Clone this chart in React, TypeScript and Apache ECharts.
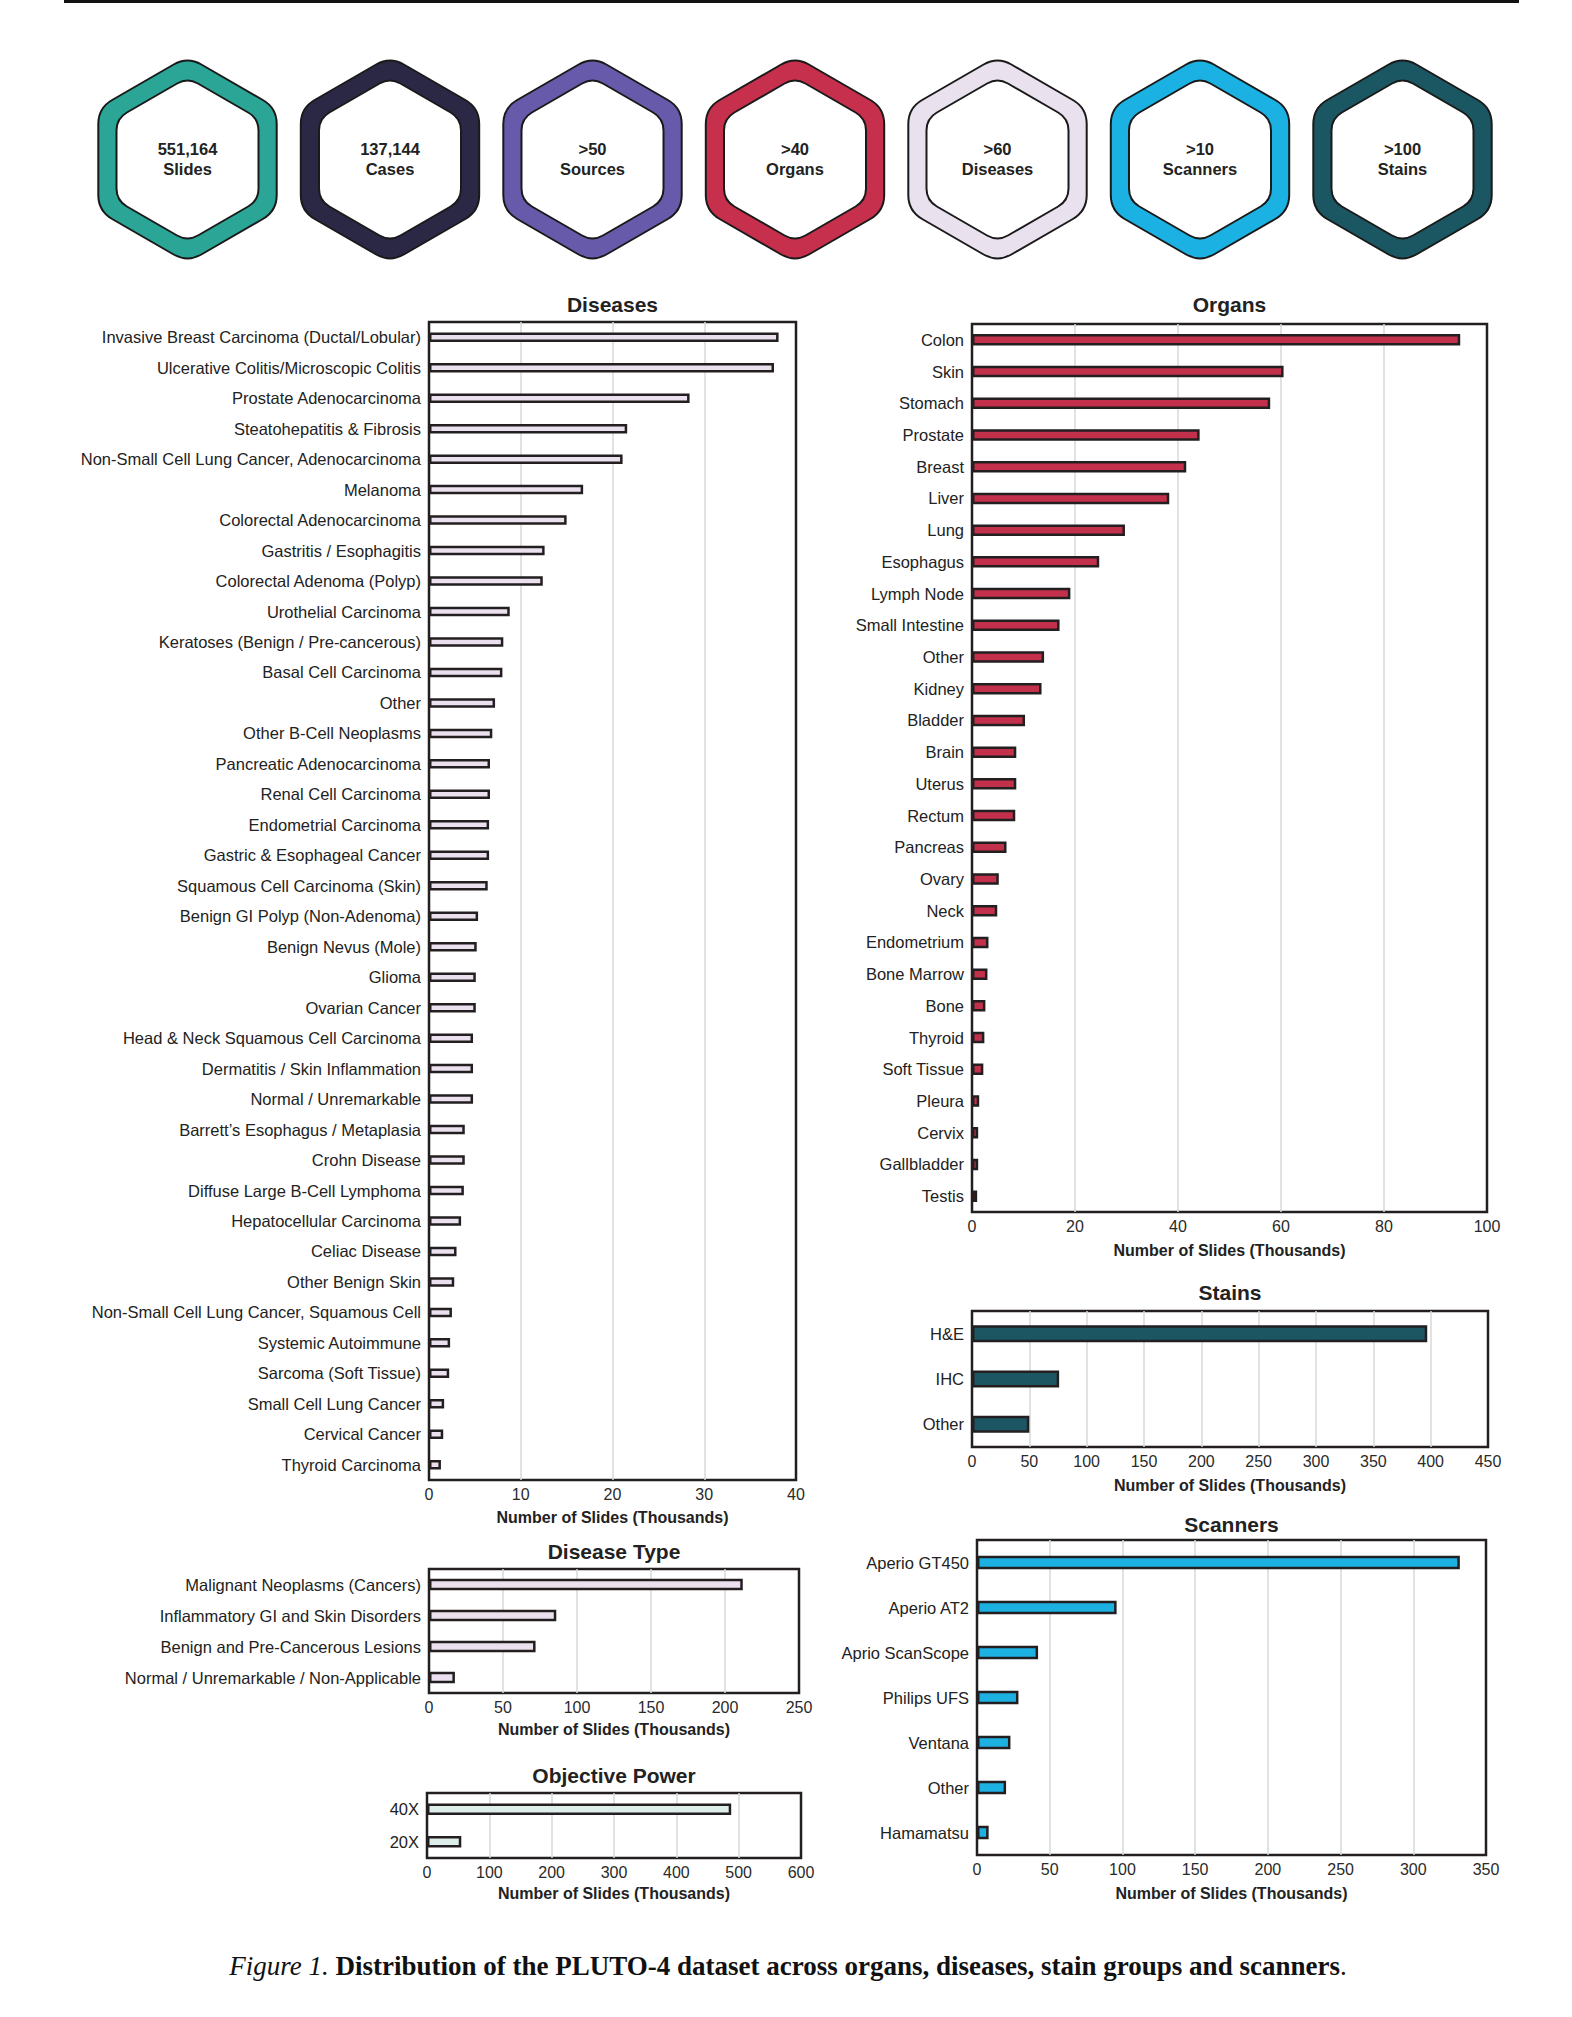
import React, { useEffect, useRef } from "react";
import * as echarts from "echarts";

// ---------- DATA ----------
const hexValues = ["551,164", "137,144", ">50", ">40", ">60", ">10", ">100"];
const hexLabels = ["Slides", "Cases", "Sources", "Organs", "Diseases", "Scanners", "Stains"];
const hexColors = ["#2BA596", "#2B2846", "#685AAA", "#C6304C", "#EAE1EF", "#1BB2E3", "#1B5763"];

const diseaseCategories = [
  "Invasive Breast Carcinoma (Ductal/Lobular)",
  "Ulcerative Colitis/Microscopic Colitis",
  "Prostate Adenocarcinoma",
  "Steatohepatitis & Fibrosis",
  "Non-Small Cell Lung Cancer, Adenocarcinoma",
  "Melanoma",
  "Colorectal Adenocarcinoma",
  "Gastritis / Esophagitis",
  "Colorectal Adenoma (Polyp)",
  "Urothelial Carcinoma",
  "Keratoses (Benign / Pre-cancerous)",
  "Basal Cell Carcinoma",
  "Other",
  "Other B-Cell Neoplasms",
  "Pancreatic Adenocarcinoma",
  "Renal Cell Carcinoma",
  "Endometrial Carcinoma",
  "Gastric & Esophageal Cancer",
  "Squamous Cell Carcinoma (Skin)",
  "Benign GI Polyp (Non-Adenoma)",
  "Benign Nevus (Mole)",
  "Glioma",
  "Ovarian Cancer",
  "Head & Neck Squamous Cell Carcinoma",
  "Dermatitis / Skin Inflammation",
  "Normal / Unremarkable",
  "Barrett\u2019s Esophagus / Metaplasia",
  "Crohn Disease",
  "Diffuse Large B-Cell Lymphoma",
  "Hepatocellular Carcinoma",
  "Celiac Disease",
  "Other Benign Skin",
  "Non-Small Cell Lung Cancer, Squamous Cell",
  "Systemic Autoimmune",
  "Sarcoma (Soft Tissue)",
  "Small Cell Lung Cancer",
  "Cervical Cancer",
  "Thyroid Carcinoma",
];
const diseaseValues = [
  38.1, 37.6, 28.4, 21.6, 21.1, 16.8, 15.0, 12.6, 12.4, 8.8, 8.1, 8.0, 7.2, 6.9, 6.65, 6.65,
  6.55, 6.55, 6.4, 5.35, 5.2, 5.1, 5.1, 4.8, 4.8, 4.8, 3.9, 3.9, 3.8, 3.5, 3.0, 2.75, 2.5,
  2.3, 2.2, 1.65, 1.55, 1.3,
];

const organCategories = [
  "Colon", "Skin", "Stomach", "Prostate", "Breast", "Liver", "Lung", "Esophagus",
  "Lymph Node", "Small Intestine", "Other", "Kidney", "Bladder", "Brain", "Uterus",
  "Rectum", "Pancreas", "Ovary", "Neck", "Endometrium", "Bone Marrow", "Bone", "Thyroid",
  "Soft Tissue", "Pleura", "Cervix", "Gallbladder", "Testis",
];
const organValues = [
  94.8, 60.5, 57.9, 44.2, 41.6, 38.3, 29.7, 24.7, 19.1, 17.0, 14.0, 13.5, 10.3, 8.6, 8.6,
  8.4, 6.7, 5.2, 4.9, 3.2, 3.0, 2.6, 2.4, 2.2, 1.4, 1.2, 1.2, 1.0,
];

const stainCategories = ["H&E", "IHC", "Other"];
const stainValues = [397, 76, 50];

const scannerCategories = [
  "Aperio GT450", "Aperio AT2", "Aprio ScanScope", "Philips UFS", "Ventana", "Other", "Hamamatsu",
];
const scannerValues = [332, 96, 42, 28.5, 23, 20, 8];

const diseaseTypeCategories = [
  "Malignant Neoplasms (Cancers)",
  "Inflammatory GI and Skin Disorders",
  "Benign and Pre-Cancerous Lesions",
  "Normal / Unremarkable / Non-Applicable",
];
const diseaseTypeValues = [212, 86, 72, 17.5];

const objectiveCategories = ["40X", "20X"];
const objectiveValues = [488, 55];

const axisNameText = "Number of Slides (Thousands)";
const captionItalic = "Figure 1.";
const captionBold = "Distribution of the PLUTO-4 dataset across organs, diseases, stain groups and scanners";

// ---------- LAYOUT / STYLE ----------
const SANS = '"Liberation Sans", Arial, Helvetica, sans-serif';
const SERIF = '"Liberation Serif", "Times New Roman", serif';
const BORDER = "#231f20";

type Panel = {
  title: string;
  categories: string[];
  values: number[];
  max: number;
  interval: number;
  color: string;
  x: number;
  y: number;
  w: number;
  h: number;
  barWidth: number;
  titleY: number;
  nameGap: number;
};

const panels: Panel[] = [
  { title: "Diseases", categories: diseaseCategories, values: diseaseValues, max: 40, interval: 10, color: "#EBE0EE", x: 429, y: 322, w: 367, h: 1158, barWidth: 9.5, titleY: 304, nameGap: 29 },
  { title: "Organs", categories: organCategories, values: organValues, max: 100, interval: 20, color: "#C3304C", x: 972, y: 324, w: 515, h: 888, barWidth: 11.5, titleY: 304, nameGap: 30 },
  { title: "Stains", categories: stainCategories, values: stainValues, max: 450, interval: 50, color: "#1D5663", x: 972, y: 1311, w: 516, h: 136, barWidth: 17, titleY: 1292, nameGap: 30 },
  { title: "Scanners", categories: scannerCategories, values: scannerValues, max: 350, interval: 50, color: "#1DB1E2", x: 977, y: 1540, w: 509, h: 315, barWidth: 13.5, titleY: 1524, nameGap: 30 },
  { title: "Disease Type", categories: diseaseTypeCategories, values: diseaseTypeValues, max: 250, interval: 50, color: "#EBE0EE", x: 429, y: 1569, w: 370, h: 124, barWidth: 11.5, titleY: 1551, nameGap: 28 },
  { title: "Objective Power", categories: objectiveCategories, values: objectiveValues, max: 600, interval: 100, color: "#DDEEEA", x: 427, y: 1793, w: 374, h: 65, barWidth: 11.5, titleY: 1775, nameGap: 27 },
];

function roundedHexPath(R: number, r: number): string {
  const pts: number[][] = [];
  for (let k = 0; k < 6; k++) {
    const a = (Math.PI / 180) * (-90 + 60 * k);
    pts.push([R * Math.cos(a), R * Math.sin(a)]);
  }
  const t = r / R;
  let d = "";
  for (let k = 0; k < 6; k++) {
    const prev = pts[(k + 5) % 6];
    const cur = pts[k];
    const next = pts[(k + 1) % 6];
    const p1 = [cur[0] + (prev[0] - cur[0]) * t, cur[1] + (prev[1] - cur[1]) * t];
    const p2 = [cur[0] + (next[0] - cur[0]) * t, cur[1] + (next[1] - cur[1]) * t];
    d +=
      (k === 0 ? "M" : "L") + p1[0].toFixed(2) + " " + p1[1].toFixed(2) +
      " Q" + cur[0].toFixed(2) + " " + cur[1].toFixed(2) + " " + p2[0].toFixed(2) + " " + p2[1].toFixed(2) + " ";
  }
  return d + "Z";
}

let shapesRegistered = false;
function registerShapes() {
  if (shapesRegistered) return;
  echarts.graphic.registerShape("hexOuter", echarts.graphic.extendPath(roundedHexPath(103, 16), {}));
  echarts.graphic.registerShape("hexInner", echarts.graphic.extendPath(roundedHexPath(82, 12), {}));
  shapesRegistered = true;
}

function buildOption() {
  const grids = panels.map((p) => ({
    left: p.x,
    top: p.y,
    width: p.w,
    height: p.h,
    show: true,
    borderColor: BORDER,
    borderWidth: 2.5,
    backgroundColor: "transparent",
    containLabel: false,
  }));

  const xAxes = panels.map((p, i) => ({
    type: "value",
    gridIndex: i,
    min: 0,
    max: p.max,
    interval: p.interval,
    axisLine: { show: false },
    axisTick: { show: false },
    splitLine: {
      show: true,
      showMinLine: false,
      showMaxLine: false,
      lineStyle: { color: "#d9d9d9", width: 1.5 },
    },
    axisLabel: { margin: 6, fontSize: 16, color: "#2a2a2a", fontFamily: SANS },
    name: axisNameText,
    nameLocation: "middle",
    nameGap: p.nameGap,
    nameTextStyle: { fontWeight: "bold", fontSize: 16, color: "#222", fontFamily: SANS },
  }));

  const yAxes = panels.map((p, i) => ({
    type: "category",
    gridIndex: i,
    data: p.categories,
    inverse: true,
    axisLine: { show: false },
    axisTick: { show: false },
    splitLine: { show: false },
    axisLabel: { margin: 8, interval: 0, fontSize: 16.5, color: "#222", fontFamily: SANS },
  }));

  const series = panels.map((p, i) => ({
    type: "bar",
    xAxisIndex: i,
    yAxisIndex: i,
    data: p.values,
    barWidth: p.barWidth,
    silent: true,
    itemStyle: { color: p.color, borderColor: BORDER, borderWidth: 2.5 },
  }));

  const graphics: any[] = [];

  // top rule
  graphics.push({
    type: "rect",
    shape: { x: 64, y: 0, width: 1455, height: 3 },
    style: { fill: "#111" },
    silent: true,
  });

  // hexagons
  hexValues.forEach((v, i) => {
    const cx = 187.5 + i * 202.5;
    const cy = 159.5;
    graphics.push({
      type: "group",
      x: cx,
      y: cy,
      silent: true,
      children: [
        { type: "hexOuter", style: { fill: hexColors[i], stroke: "#1a1a1a", lineWidth: 2 } },
        { type: "hexInner", style: { fill: "#ffffff", stroke: "#1a1a1a", lineWidth: 2 } },
        {
          type: "text",
          style: {
            text: v + "\n" + hexLabels[i],
            x: 0,
            y: -1,
            align: "center",
            verticalAlign: "middle",
            fontFamily: SANS,
            fontWeight: "bold",
            fontSize: 16.5,
            lineHeight: 20,
            fill: "#222",
          },
        },
      ],
    });
  });

  // panel titles
  panels.forEach((p) => {
    graphics.push({
      type: "text",
      silent: true,
      style: {
        text: p.title,
        x: p.x + p.w / 2,
        y: p.titleY,
        align: "center",
        verticalAlign: "middle",
        fontFamily: SANS,
        fontWeight: "bold",
        fontSize: 21,
        fill: "#222",
      },
    });
  });

  // caption
  graphics.push({
    type: "text",
    silent: true,
    style: {
      text: "{i|" + captionItalic + " }{b|" + captionBold + "}{n|.}",
      x: 788,
      y: 1966,
      align: "center",
      verticalAlign: "middle",
      fontFamily: SERIF,
      fontSize: 27,
      fill: "#111",
      rich: {
        i: { fontStyle: "italic", fontFamily: SERIF, fontSize: 27, fill: "#111" },
        b: { fontWeight: "bold", fontFamily: SERIF, fontSize: 27, fill: "#111" },
        n: { fontFamily: SERIF, fontSize: 27, fill: "#111" },
      },
    },
  });

  return {
    animation: false,
    backgroundColor: "#ffffff",
    grid: grids,
    xAxis: xAxes,
    yAxis: yAxes,
    series,
    graphic: graphics,
  };
}

export default function App() {
  const ref = useRef<HTMLDivElement>(null);
  useEffect(() => {
    if (!ref.current) return;
    registerShapes();
    const chart = echarts.init(ref.current, undefined, { renderer: "svg" });
    chart.setOption(buildOption() as any);
    return () => chart.dispose();
  }, []);
  return (
    <div
      ref={ref}
      style={{ position: "absolute", left: 0, top: 0, width: 1572, height: 2017, background: "#fff" }}
    />
  );
}
